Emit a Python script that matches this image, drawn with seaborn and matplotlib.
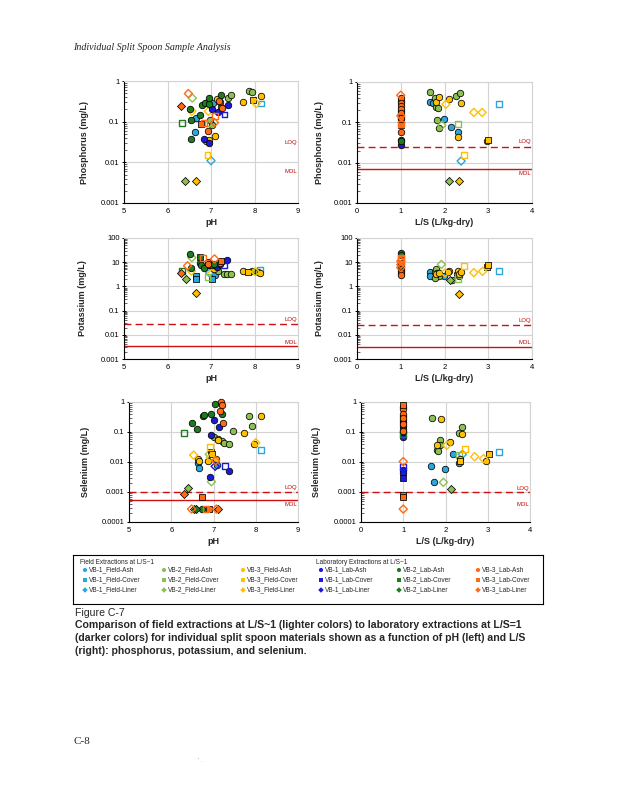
import matplotlib
matplotlib.use("Agg")
import matplotlib.pyplot as plt
import seaborn as sns
import pandas as pd
from matplotlib.ticker import FixedLocator, LogLocator, NullFormatter, FuncFormatter

# ---------------- data ----------------
# series codes: F=field, L=lab; 1/2/3 = VB-1/2/3; a=Ash, c=Cover, l=Liner ; nd=1 -> open marker
P_pH_x = [6.48, 6.57, 6.32, 6.52, 6.56, 6.53, 6.34, 6.66, 6.75, 6.76, 6.84, 6.93, 7.03, 6.94, 6.80, 6.86, 6.95, 6.95,
          6.93, 6.98, 7.02, 7.04, 7.13, 7.09, 7.21, 7.22, 7.15, 7.22, 7.25, 7.38, 7.38, 7.47, 7.31, 7.08, 6.92, 6.64,
          6.55, 6.83, 6.95, 6.88, 6.96, 7.10, 6.92, 7.00, 6.41, 6.65, 7.74, 7.96, 7.87, 7.94, 8.14, 8.04, 8.14, 7.18]
P_pH_y = [0.49, 0.38, 0.24, 0.21, 0.18, 0.108, 0.091, 0.12, 0.15, 0.088, 0.091, 0.091, 0.081, 0.18, 0.26, 0.28, 0.27, 0.39,
          0.30, 0.11, 0.20, 0.29, 0.37, 0.135, 0.30, 0.44, 0.17, 0.23, 0.22, 0.25, 0.39, 0.46, 0.15, 0.095, 0.059, 0.057,
          0.038, 0.037, 0.030, 0.034, 0.036, 0.044, 0.015, 0.011, 0.0034, 0.0034, 0.30, 0.34, 0.58, 0.53, 0.42, 0.28, 0.28, 0.32]
P_pH_s = ["L3l", "F2l", "L3l", "L2a", "F3l", "L2a", "L2c", "F1a", "L2a", "L3c", "L3c", "F2c", "F2a", "F3l", "L2a", "L2a", "L2a", "L2a",
          "F1a", "F2a", "L1a", "F1a", "F3a", "L3c", "L3a", "L2a", "L1a", "F2a", "L3a", "L1a", "F2a", "F2a", "L1c", "L3l", "L3a", "F1a",
          "L2a", "L1a", "L1a", "F3a", "F3a", "F3a", "F3c", "F1l", "F2l", "F3l", "F3a", "F3c", "F2a", "F2a", "F3a", "F3l", "F1c", "L3a"]
P_pH_nd = [1, 1, 0, 0, 1, 0, 1, 0, 0, 0, 1, 1, 0, 1, 0, 0, 0, 0,
           0, 0, 0, 0, 0, 1, 0, 0, 0, 0, 0, 0, 0, 0, 1, 1, 0, 0,
           0, 0, 0, 0, 0, 0, 1, 1, 0, 0, 0, 0, 0, 0, 0, 1, 1, 0]

P_ls_x = [1, 1, 1, 1, 1, 1, 1, 1, 1, 1, 1, 1, 1, 1, 1, 1, 1, 1,
          1.66, 1.66, 1.74, 1.78, 1.81, 1.87, 1.80, 1.86, 2.10, 2.03, 2.27, 2.36, 2.38, 1.82, 1.98, 1.87, 1.94, 2.14,
          2.30, 2.30, 2.30, 2.96, 2.99, 2.67, 2.86, 3.24, 2.44, 2.38, 2.10, 2.32]
P_ls_y = [0.47, 0.40, 0.34, 0.30, 0.26, 0.22, 0.19, 0.17, 0.145, 0.13, 0.12, 0.10, 0.092, 0.085, 0.058, 0.037, 0.034, 0.027,
          0.55, 0.32, 0.31, 0.40, 0.32, 0.42, 0.24, 0.23, 0.37, 0.28, 0.45, 0.52, 0.30, 0.116, 0.118, 0.073, 0.085, 0.075,
          0.09, 0.058, 0.044, 0.035, 0.037, 0.176, 0.176, 0.28, 0.0156, 0.011, 0.0035, 0.0035]
P_ls_s = ["L3l", "L3a", "L2a", "L3a", "L3a", "L3a", "L2a", "L3a", "L3l", "L3a", "L2a", "L2a", "L3c", "L3c", "L3a", "L2a", "L2a", "L1a",
          "F2a", "F1a", "F1a", "F2a", "F3a", "F3a", "F2a", "F2a", "F3a", "F3l", "F2a", "F2a", "F3a", "F2a", "F1a", "F2a", "F2l", "F1a",
          "F2c", "F1a", "F3a", "F3a", "F3c", "F3l", "F3l", "F1c", "F3c", "F1l", "F2l", "F3l"]
P_ls_nd = [1, 0, 0, 0, 0, 0, 0, 0, 1, 0, 0, 0, 1, 0, 0, 0, 0, 0,
           0, 0, 0, 0, 0, 0, 0, 0, 0, 1, 0, 0, 0, 0, 0, 0, 1, 0,
           1, 0, 0, 0, 0, 1, 1, 1, 1, 1, 0, 0]

K_pH_x = [6.51, 6.56, 6.74, 6.81, 6.75, 6.78, 6.46, 6.53, 6.55, 6.33, 6.30, 6.42, 6.65, 6.65, 6.66, 6.84, 6.92, 6.93,
          6.95, 6.99, 6.92, 6.97, 6.94, 7.02, 7.02, 7.08, 7.09, 7.08, 7.14, 7.20, 7.23, 7.29, 7.17, 7.29, 7.37, 7.45,
          7.36, 7.73, 7.85, 7.94, 8.07, 8.13, 8.02, 8.13, 7.06, 7.20]
K_pH_y = [22.7, 15.5, 17.0, 15.5, 9.4, 7.6, 7.1, 5.9, 4.3, 4.5, 3.6, 2.0, 2.7, 2.1, 0.55, 5.5, 10.3, 8.2,
          7.5, 7.8, 2.5, 3.6, 5.3, 7.5, 2.1, 13.7, 3.1, 5.1, 6.6, 8.5, 11.0, 7.3, 4.2, 3.4, 3.2, 3.3,
          12.8, 4.4, 4.1, 4.3, 4.0, 5.0, 4.0, 3.7, 8.3, 9.5]
K_pH_s = ["L2a", "F2l", "L2c", "L3c", "L2a", "L2a", "L3l", "L2a", "F3l", "L2c", "L3l", "F2l", "F1c", "F1c", "F3l", "L2a", "L3a", "L3a",
          "F3c", "F3c", "F2c", "F1l", "F3l", "L2a", "F1c", "L3l", "F1a", "F3a", "L1a", "L1a", "L3c", "L1c", "F2a", "F2a", "F2a", "F2a",
          "L1a", "F3a", "F3c", "F2a", "F2a", "F1c", "F3l", "F3a", "L2a", "L3a"]
K_pH_nd = [0, 1, 0, 1, 0, 0, 1, 0, 1, 1, 0, 0, 0, 0, 0, 0, 0, 0,
           0, 0, 1, 1, 1, 0, 0, 1, 0, 0, 0, 0, 0, 1, 0, 0, 0, 0,
           0, 0, 0, 0, 0, 1, 1, 0, 0, 0]

K_ls_x = [1, 1, 1, 1, 1, 1, 1, 1, 1, 1, 1, 1, 1,
          1.66, 1.66, 1.78, 1.81, 1.83, 1.87, 1.79, 1.81, 1.87, 2.10, 2.07, 2.01, 1.93, 1.98, 2.13, 2.16,
          2.30, 2.30, 2.34, 2.38, 2.28, 2.34, 2.32, 2.45, 2.67, 2.87, 2.96, 3.00, 3.24]
K_ls_y = [24.0, 20.0, 15.0, 13.0, 11.0, 9.0, 8.0, 7.0, 6.0, 5.0, 4.2, 3.6, 3.1,
          3.8, 2.7, 3.9, 5.0, 3.6, 2.6, 2.3, 3.3, 3.7, 4.3, 3.8, 3.6, 8.1, 2.6, 1.9, 1.9,
          2.1, 4.2, 3.4, 3.9, 3.2, 2.8, 0.5, 6.7, 3.7, 4.2, 6.1, 7.4, 4.3]
K_ls_s = ["L2a", "L2a", "L3c", "L3c", "L3l", "L3a", "L3l", "L2a", "L3l", "L2a", "L2a", "L3a", "L3a",
          "F1a", "F1a", "F2a", "F2a", "F2a", "F2a", "F2a", "F3a", "F3a", "F3a", "F3a", "F3l", "F2l", "F1a", "F2l", "F2a",
          "F2c", "F3a", "F3a", "F3a", "F2a", "F2a", "F3l", "F3c", "F3l", "F3l", "F3c", "F3c", "F1c"]
K_ls_nd = [0, 0, 1, 1, 1, 0, 1, 0, 1, 0, 0, 0, 0,
           0, 0, 0, 0, 0, 0, 0, 0, 0, 0, 0, 1, 1, 0, 0, 0,
           1, 0, 0, 0, 0, 0, 0, 1, 1, 1, 0, 0, 1]

Se_pH_x = [7.04, 7.17, 7.20, 7.15, 7.20, 6.94, 6.75, 6.77, 7.85, 8.13, 7.02, 7.23, 6.50, 7.13, 7.92, 6.62, 6.31, 7.46,
           7.72, 6.94, 7.02, 7.10, 7.20, 7.26, 7.37, 7.11, 7.95, 8.00, 8.12, 6.91, 6.95, 6.96, 6.90, 6.53, 6.93, 6.64,
           6.66, 6.88, 7.07, 7.05, 6.64, 6.65, 7.04, 7.09, 7.28, 7.37, 6.92, 6.95, 6.40, 6.29, 6.72,
           6.48, 6.53, 6.58, 6.72, 6.82, 6.90, 7.07, 7.11]
Se_pH_y = [0.86, 1.0, 0.77, 0.49, 0.41, 0.41, 0.34, 0.36, 0.34, 0.34, 0.25, 0.20, 0.20, 0.15, 0.16, 0.126, 0.095, 0.108,
           0.095, 0.08, 0.068, 0.06, 0.05, 0.043, 0.039, 0.054, 0.041, 0.044, 0.025, 0.032, 0.021, 0.018, 0.018, 0.017, 0.014, 0.013,
           0.011, 0.011, 0.013, 0.011, 0.0095, 0.0061, 0.0072, 0.008, 0.0072, 0.0051, 0.0032, 0.0022, 0.0014, 0.00085, 0.00068,
           0.00027, 0.00027, 0.00027, 0.00027, 0.00027, 0.00027, 0.00027, 0.00027]
Se_pH_s = ["L2a", "L3a", "L3a", "L3a", "L2a", "L2a", "L2a", "L2a", "F2a", "F3a", "L1a", "L3a", "L2a", "L1a", "F2a", "L2a", "L2c", "F2a",
           "F3a", "L1a", "F2a", "F2a", "F2a", "F2a", "F2a", "F3a", "F3a", "F3l", "F1c", "F3c", "F3c", "F3c", "F2l", "F3l", "F3l", "F3a",
           "F3a", "F3a", "F3a", "L3l", "F1a", "F1a", "L1l", "F1a", "L1c", "L1a", "L1a", "F2l", "F2l", "L3l", "L3c",
           "L3l", "F2l", "L2l", "L2a", "L3c", "L3c", "L3l", "L3l"]
Se_pH_nd = [0, 0, 0, 0, 0, 0, 0, 0, 0, 0, 0, 0, 0, 0, 0, 0, 1, 0,
            0, 0, 0, 0, 0, 0, 0, 0, 0, 1, 1, 1, 0, 0, 1, 1, 1, 0,
            0, 0, 0, 1, 0, 0, 1, 0, 1, 0, 0, 1, 0, 0, 0,
            1, 0, 0, 0, 1, 0, 1, 0]

Se_ls_x = [1, 1, 1, 1, 1, 1, 1, 1, 1, 1, 1, 1, 1, 1, 1, 1, 1, 1, 1, 1, 1, 1, 1,
           1.68, 1.89, 2.31, 2.38, 2.39, 1.86, 2.11, 1.81, 1.87, 1.79, 1.82, 2.03, 2.17, 2.32, 2.40, 2.47, 2.34, 2.35,
           2.32, 2.69, 2.90, 2.97, 3.02, 3.27, 1.66, 1.99, 1.73, 1.95, 2.12]
Se_ls_y = [0.80, 0.70, 0.60, 0.40, 0.35, 0.30, 0.25, 0.22, 0.18, 0.16, 0.13, 0.11, 0.10, 0.085, 0.07,
           0.0103, 0.0068, 0.0055, 0.0044, 0.0030, 0.00080, 0.00068, 0.00027,
           0.29, 0.27, 0.096, 0.144, 0.085, 0.055, 0.045, 0.036, 0.036, 0.026, 0.024, 0.036, 0.018, 0.017, 0.018, 0.028, 0.013, 0.011,
           0.0093, 0.015, 0.013, 0.011, 0.018, 0.022, 0.0075, 0.006, 0.0021, 0.0021, 0.0013]
Se_ls_s = ["L3c", "L3a", "L3a", "L3a", "L2a", "L3a", "L2a", "L1a", "L3a", "L1a", "L2a", "L3a", "L2a", "L2c", "L1a",
           "L3l", "L1c", "L1a", "L1a", "L1c", "L3c", "L3c", "L3l",
           "F2a", "F3a", "F2a", "F2a", "F3a", "F2a", "F3a", "F3a", "F2a", "F2a", "F2a", "F3l", "F1a", "F2c", "F1l", "F3c", "F3a", "F3c",
           "F1a", "F3l", "F3l", "F3a", "F3c", "F1c", "F1a", "F1a", "F1a", "F2l", "F2l"]
Se_ls_nd = [0, 0, 0, 0, 0, 0, 0, 0, 0, 0, 0, 0, 0, 1, 0,
            1, 1, 0, 0, 0, 0, 0, 1,
            0, 0, 0, 0, 0, 0, 0, 0, 0, 0, 0, 1, 0, 1, 1, 1, 0, 0,
            0, 1, 1, 0, 0, 1, 0, 0, 0, 1, 0]

# reference limits (LOQ dashed, MDL solid)
LOQ = {"P_pH": None, "P_ls": 0.025, "K_pH": 0.028, "K_ls": 0.025, "Se_pH": 0.001, "Se_ls": 0.001}
MDL = {"P_pH": None, "P_ls": 0.007, "K_pH": 0.0035, "K_ls": 0.0031, "Se_pH": 0.00054, "Se_ls": None}
LOQ_TXT = {"P_pH": 0.030, "P_ls": 0.033, "K_pH": 0.041, "K_ls": 0.039, "Se_pH": 0.0014, "Se_ls": 0.0013}
MDL_TXT = {"P_pH": 0.0058, "P_ls": 0.0055, "K_pH": 0.005, "K_ls": 0.0046, "Se_pH": 0.00038, "Se_ls": 0.00037}

SITES = ["VB-1", "VB-2", "VB-3"]
MATERIALS = ["Ash", "Cover", "Liner"]

# ---------------- styling ----------------
sns.set_theme(style="white")
plt.rcParams['font.family'] = ['Liberation Sans', 'DejaVu Sans']
plt.rcParams['axes.linewidth'] = 0.8

COLORS = {"F1": "#2BA6DE", "F2": "#8CC152", "F3": "#FFC000",
          "L1": "#1A1AD8", "L2": "#1E7B1E", "L3": "#FF6A13"}
MARKERS = {"a": "o", "c": "s", "l": "D"}
SIZES = {"a": 22, "c": 18, "l": 17}
RED = "#C00000"
GRID = "#D3D3D3"

fig = plt.figure(figsize=(6.18, 8.0), dpi=100)
W, H = 618.0, 800.0


def add_ax(l, t, r, b):
    return fig.add_axes([l / W, 1 - b / H, (r - l) / W, (b - t) / H])


def panel(ax, xs, ys, ss, nds, key, xlim, xticks, ylim, ylabel, xlabel, ylab_x):
    df = pd.DataFrame({"x": xs, "y": ys, "s": ss, "nd": nds})
    order = [f"{g}{i}{m}" for g in ("F", "L") for i in (1, 2, 3) for m in ("a", "c", "l")]
    for code in order:
        for nd in (0, 1):
            sub = df[(df.s == code) & (df.nd == nd)]
            if sub.empty:
                continue
            c = COLORS[code[:2]]
            m = MARKERS[code[2]]
            sns.scatterplot(data=sub, x="x", y="y", ax=ax, marker=m, color=c, s=SIZES[code[2]],
                            edgecolor="black", linewidth=0.55, legend=False, zorder=4, clip_on=False)
            if nd:
                coll = ax.collections[-1]
                coll.set_facecolor("none")
                coll.set_edgecolor(c)
                coll.set_linewidth(1.0)
    ax.set_yscale("log")
    ax.set_xlim(*xlim)
    ax.set_ylim(*ylim)
    ax.xaxis.set_major_locator(FixedLocator(xticks))
    ax.yaxis.set_major_locator(LogLocator(base=10, numticks=20))
    ax.yaxis.set_minor_locator(LogLocator(base=10, subs=range(2, 10), numticks=50))
    ax.yaxis.set_minor_formatter(NullFormatter())
    ax.yaxis.set_major_formatter(FuncFormatter(lambda v, _: f"{v:g}"))
    ax.grid(True, which="major", color=GRID, lw=0.8, zorder=0)
    ax.set_axisbelow(True)
    for sp in ("top", "right"):
        ax.spines[sp].set_color(GRID)
    for sp in ("left", "bottom"):
        ax.spines[sp].set_color("black")
    ax.tick_params(axis="both", which="major", labelsize=5.5, pad=1.5, colors="black")
    ax.tick_params(axis="x", which="major", direction="out", length=2, width=0.6, top=False)
    ax.tick_params(axis="y", which="major", direction="inout", length=3.5, width=0.7, right=False, left=True)
    ax.tick_params(axis="y", which="minor", direction="in", length=1.8, width=0.5, right=False, left=True)
    ax.set_xlabel(xlabel, fontsize=6.5, fontweight="bold", labelpad=2)
    ax.set_ylabel(ylabel, fontsize=6.5, fontweight="bold")
    ax.yaxis.set_label_coords(ylab_x, 0.5)
    tr = ax.get_yaxis_transform()
    if LOQ[key] is not None:
        ax.axhline(LOQ[key], color="#D01010", lw=1.0, ls=(0, (5, 3)), zorder=2)
    if MDL[key] is not None:
        ax.axhline(MDL[key], color="#D01010", lw=1.0, zorder=2)
    ax.text(0.995, LOQ_TXT[key], "LOQ", transform=tr, ha="right", va="center", fontsize=4.3, color=RED)
    ax.text(0.995, MDL_TXT[key], "MDL", transform=tr, ha="right", va="center", fontsize=4.3, color=RED)


ax1 = add_ax(124, 81, 298, 203)
ax2 = add_ax(357, 82, 532, 203)
ax3 = add_ax(124, 238, 298, 359)
ax4 = add_ax(357, 238, 532, 359)
ax5 = add_ax(129, 402, 298, 522)
ax6 = add_ax(361, 402, 530, 522)

PH_TICKS = [5, 6, 7, 8, 9]
LS_TICKS = [0, 1, 2, 3, 4]
panel(ax1, P_pH_x, P_pH_y, P_pH_s, P_pH_nd, "P_pH", (5, 9), PH_TICKS, (0.001, 1), "Phosphorus (mg/L)", "pH", -0.20)
panel(ax2, P_ls_x, P_ls_y, P_ls_s, P_ls_nd, "P_ls", (0, 4), LS_TICKS, (0.001, 1), "Phosphorus (mg/L)", "L/S (L/kg-dry)", -0.19)
panel(ax3, K_pH_x, K_pH_y, K_pH_s, K_pH_nd, "K_pH", (5, 9), PH_TICKS, (0.001, 100), "Potassium (mg/L)", "pH", -0.21)
panel(ax4, K_ls_x, K_ls_y, K_ls_s, K_ls_nd, "K_ls", (0, 4), LS_TICKS, (0.001, 100), "Potassium (mg/L)", "L/S (L/kg-dry)", -0.19)
panel(ax5, Se_pH_x, Se_pH_y, Se_pH_s, Se_pH_nd, "Se_pH", (5, 9), PH_TICKS, (0.0001, 1), "Selenium (mg/L)", "pH", -0.23)
panel(ax6, Se_ls_x, Se_ls_y, Se_ls_s, Se_ls_nd, "Se_ls", (0, 4), LS_TICKS, (0.0001, 1), "Selenium (mg/L)", "L/S (L/kg-dry)", -0.235)

# ---------------- legend box ----------------
lax = add_ax(73, 555, 543, 604)
lax.set_xlim(73, 543)
lax.set_ylim(604, 555)
lax.set_xticks([])
lax.set_yticks([])
for sp in lax.spines.values():
    sp.set_color("black")
    sp.set_linewidth(0.8)
lax.text(80, 562, "Field Extractions at L/S~1", fontsize=4.7, va="center", ha="left")
lax.text(316, 562, "Laboratory Extractions at L/S~1", fontsize=4.7, va="center", ha="left")
col_x = {"F": [85, 164, 243], "L": [321, 399, 478]}
row_y = [570, 580, 590]
for g, gname in (("F", "Field"), ("L", "Lab")):
    for i, site in enumerate(SITES):
        for j, (mk, mat) in enumerate(zip(("a", "c", "l"), MATERIALS)):
            x0, y0 = col_x[g][i], row_y[j]
            lax.scatter([x0], [y0], marker=MARKERS[mk], s=9 if mk == "a" else 8,
                        color=COLORS[f"{g}{i + 1}"], edgecolor="none", zorder=3)
            lax.text(x0 + 4, y0, f"{site}_{gname}-{mat}", fontsize=4.7, va="center", ha="left")

# ---------------- page text ----------------
fig.text(73 / W, 1 - 48 / H, "Individual Split Spoon Sample Analysis", fontsize=7.2, style="italic",
         family=["Liberation Serif", "DejaVu Serif"], va="center", ha="left")
fig.text(75 / W, 1 - 613 / H, "Figure C-7", fontsize=7.6, va="center", ha="left")
cap = ["Comparison of field extractions at L/S~1 (lighter colors) to laboratory extractions at L/S=1",
       "(darker colors) for individual split spoon materials shown as a function of pH (left) and L/S",
       "(right): phosphorus, potassium, and selenium."]
for k, line in enumerate(cap):
    fig.text(75 / W, 1 - (625.5 + 12.5 * k) / H, line, fontsize=7.6, fontweight="bold", va="center", ha="left")
fig.text(73 / W, 1 - 742 / H, "C-8", fontsize=8, family=["Liberation Serif", "DejaVu Serif"], va="center", ha="left")
fig.text(198 / W, 1 - 760 / H, "' .", fontsize=4, color="#999999", va="center", ha="left")

fig.savefig("out.png", dpi=100, facecolor="white")
